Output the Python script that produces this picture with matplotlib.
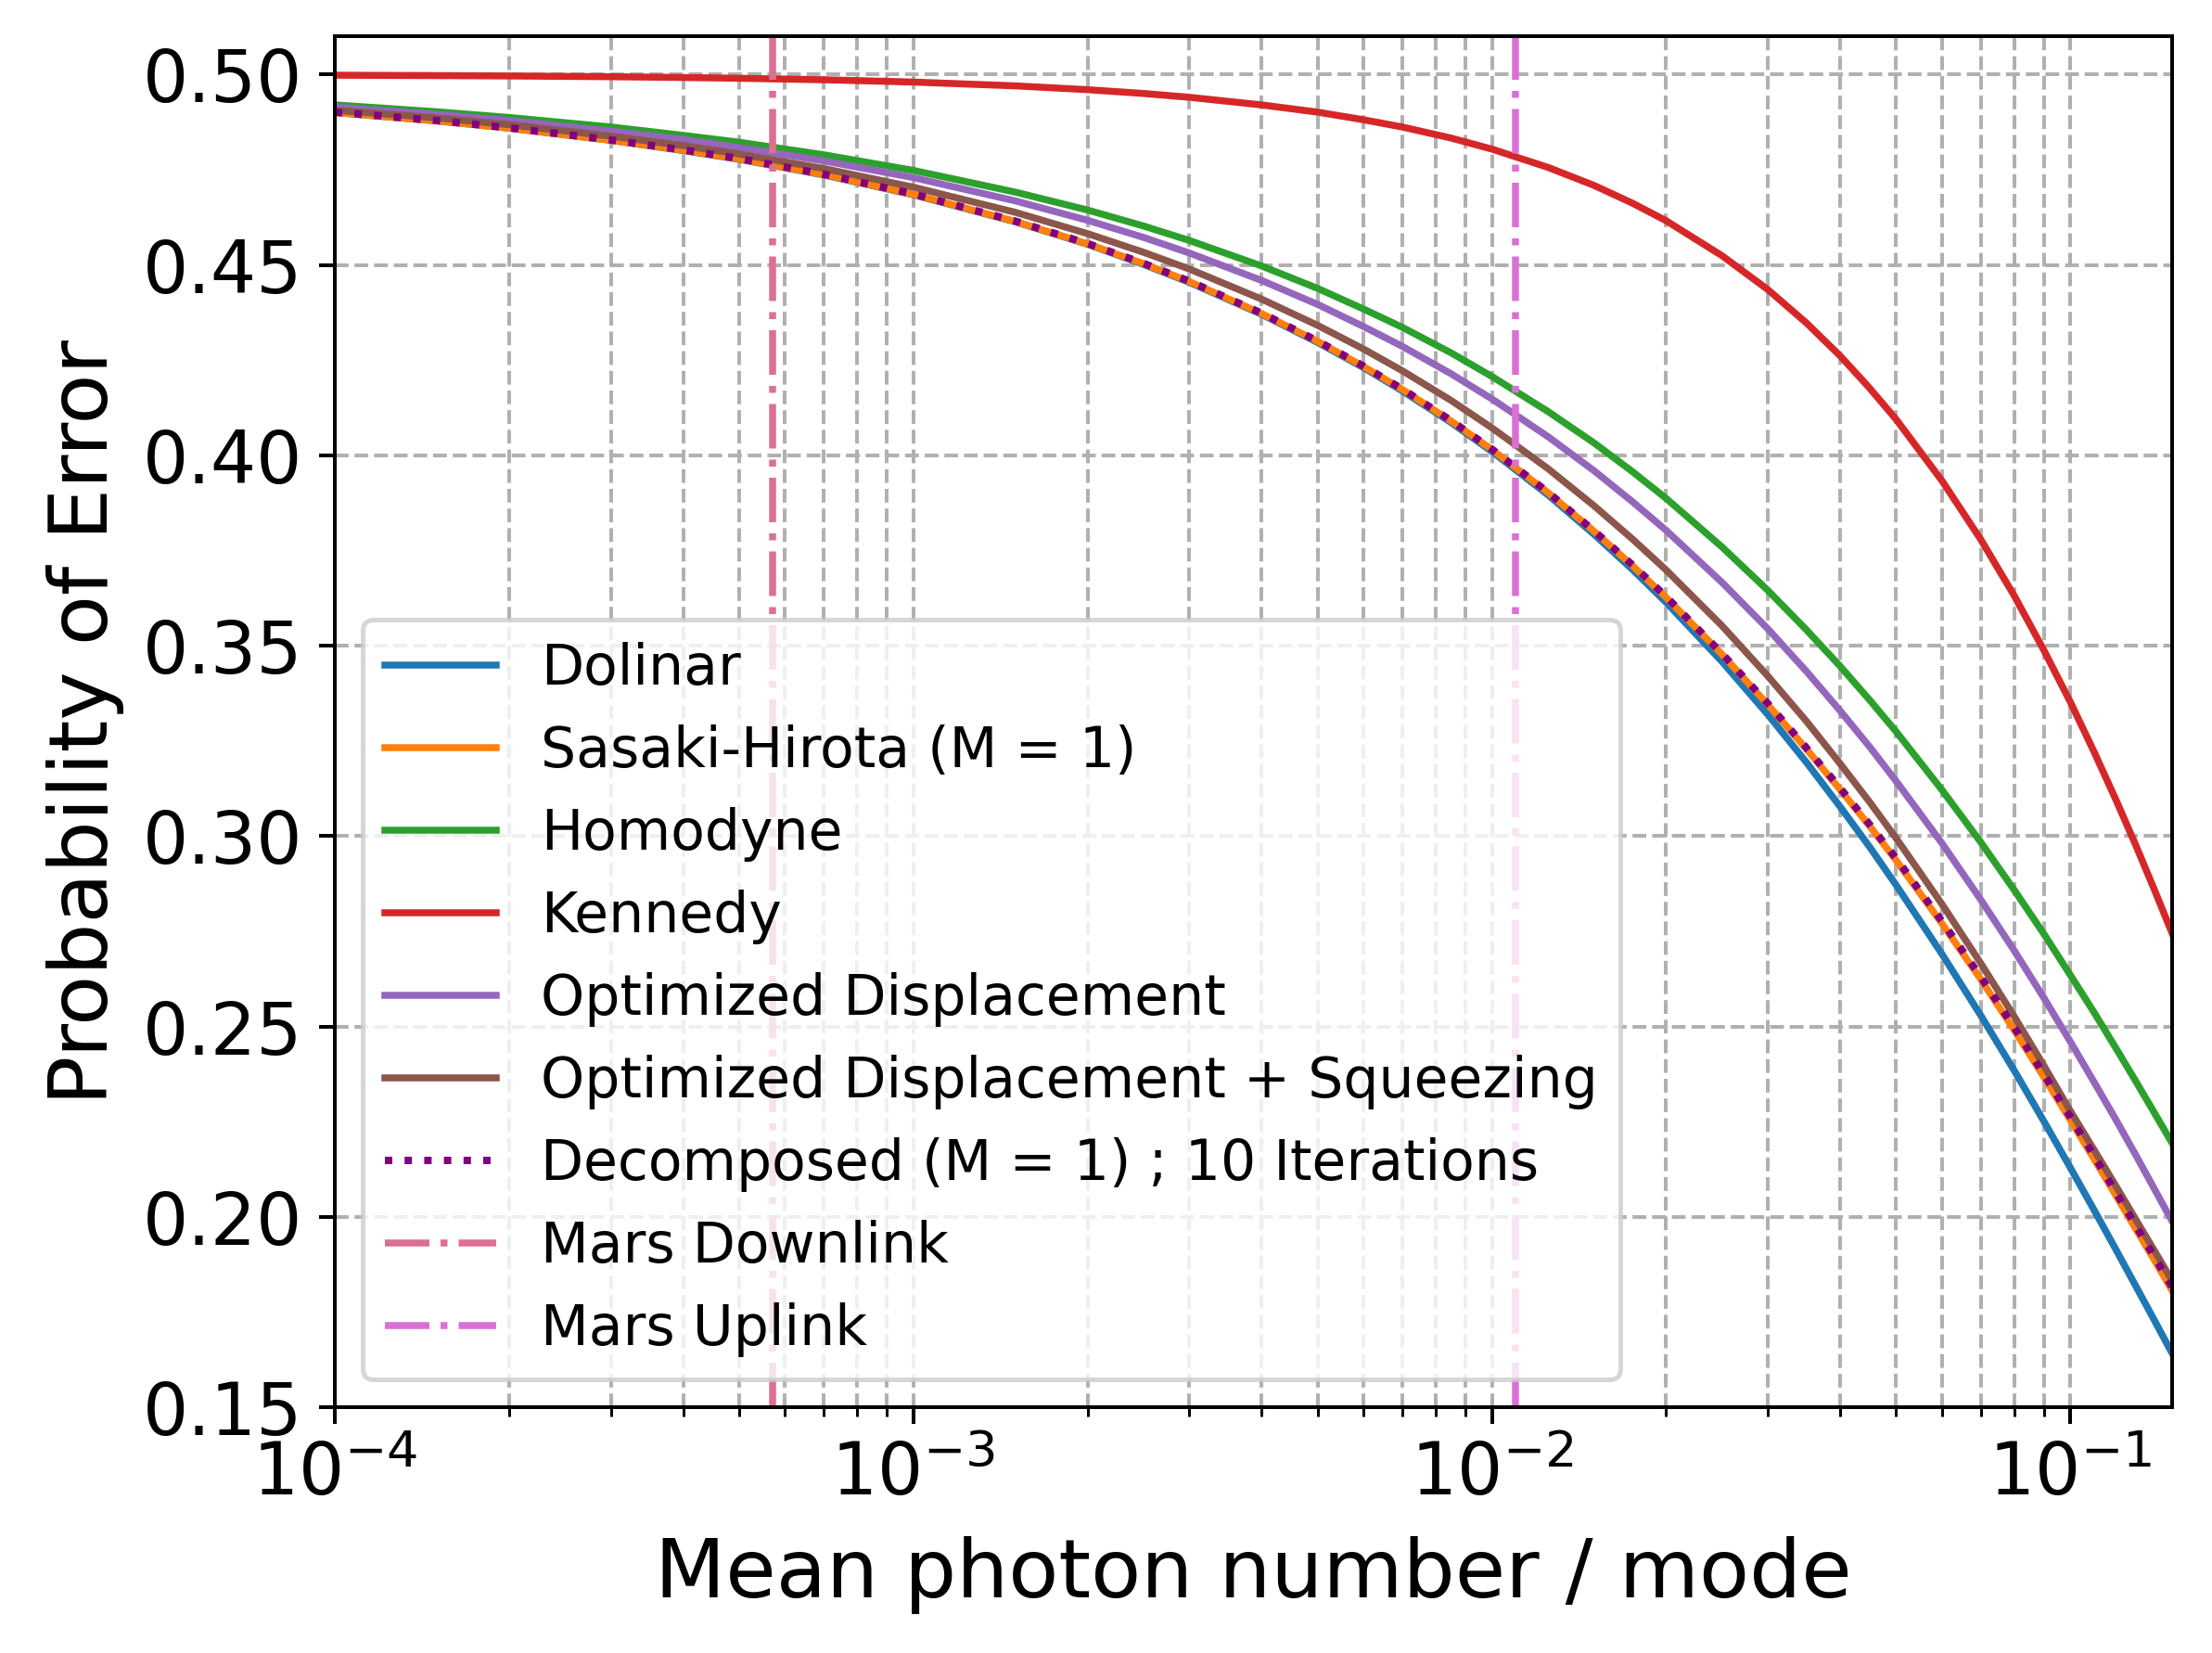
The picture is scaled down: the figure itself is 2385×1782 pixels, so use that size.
import matplotlib
matplotlib.use("Agg")
import matplotlib.pyplot as plt

# mean photon number per mode (x values)
photons = [1e-4, 1.5e-4, 2e-4, 3e-4, 4e-4, 5e-4, 7e-4,
           1e-3, 1.5e-3, 2e-3, 2.5e-3, 3e-3, 4e-3, 5e-3, 6e-3, 7e-3, 8.5e-3,
           1e-2, 1.25e-2, 1.5e-2, 1.75e-2, 2e-2, 2.5e-2, 3e-2, 3.5e-2, 4e-2, 4.5e-2,
           5e-2, 6e-2, 7e-2, 8e-2, 9e-2, 0.1, 0.11, 0.12, 0.13, 0.14, 0.15]

# probability of error for each receiver
dolinar = [0.4900, 0.4878, 0.4859, 0.4827, 0.4800, 0.4777, 0.4736,
           0.4684, 0.4613, 0.4554, 0.4501, 0.4454, 0.4370, 0.4296, 0.4230, 0.4169, 0.4086,
           0.4010, 0.3896, 0.3793, 0.3700, 0.3614, 0.3458, 0.3319, 0.3193, 0.3077, 0.2971,
           0.2871, 0.2690, 0.2529, 0.2384, 0.2251, 0.2129, 0.2017, 0.1913, 0.1816, 0.1726, 0.1641]
sasaki = [0.4900, 0.4878, 0.4859, 0.4827, 0.4801, 0.4778, 0.4737,
          0.4685, 0.4614, 0.4555, 0.4503, 0.4456, 0.4372, 0.4299, 0.4233, 0.4173, 0.4090,
          0.4015, 0.3902, 0.3801, 0.3710, 0.3627, 0.3477, 0.3345, 0.3228, 0.3122, 0.3026,
          0.2936, 0.2770, 0.2624, 0.2490, 0.2367, 0.2254, 0.2151, 0.2055, 0.1966, 0.1884, 0.1806]
homodyne = [0.4920, 0.4902, 0.4887, 0.4862, 0.4840, 0.4822, 0.4789,
            0.4748, 0.4691, 0.4644, 0.4602, 0.4564, 0.4497, 0.4438, 0.4384, 0.4336, 0.4269,
            0.4207, 0.4115, 0.4033, 0.3957, 0.3887, 0.3759, 0.3645, 0.3541, 0.3446, 0.3357,
            0.3274, 0.3121, 0.2984, 0.2858, 0.2743, 0.2635, 0.2536, 0.2442, 0.2354, 0.2271, 0.2193]
kennedy = [0.4998, 0.4997, 0.4996, 0.4994, 0.4992, 0.4990, 0.4986,
           0.4980, 0.4970, 0.4960, 0.4950, 0.4940, 0.4920, 0.4901, 0.4881, 0.4862, 0.4833,
           0.4804, 0.4756, 0.4709, 0.4662, 0.4616, 0.4524, 0.4435, 0.4347, 0.4261, 0.4176,
           0.4094, 0.3933, 0.3779, 0.3631, 0.3488, 0.3352, 0.3220, 0.3094, 0.2973, 0.2856, 0.2744]
opt_disp = [0.4914, 0.4895, 0.4879, 0.4851, 0.4829, 0.4808, 0.4773,
            0.4729, 0.4668, 0.4617, 0.4572, 0.4531, 0.4459, 0.4396, 0.4338, 0.4286, 0.4214,
            0.4148, 0.4049, 0.3960, 0.3878, 0.3803, 0.3666, 0.3544, 0.3432, 0.3329, 0.3234,
            0.3144, 0.2981, 0.2833, 0.2699, 0.2575, 0.2460, 0.2353, 0.2254, 0.2160, 0.2071, 0.1988]
opt_disp_sq = [0.4906, 0.4886, 0.4868, 0.4838, 0.4813, 0.4791, 0.4753,
               0.4704, 0.4638, 0.4582, 0.4533, 0.4489, 0.4410, 0.4341, 0.4279, 0.4222, 0.4144,
               0.4072, 0.3965, 0.3868, 0.3780, 0.3699, 0.3552, 0.3420, 0.3301, 0.3190, 0.3089,
               0.2994, 0.2821, 0.2666, 0.2526, 0.2397, 0.2278, 0.2175, 0.2080, 0.1991, 0.1909, 0.1832]
decomposed = [0.4901, 0.4879, 0.4860, 0.4828, 0.4802, 0.4779, 0.4738,
              0.4686, 0.4615, 0.4556, 0.4504, 0.4457, 0.4373, 0.4300, 0.4234, 0.4174, 0.4091,
              0.4016, 0.3903, 0.3802, 0.3712, 0.3629, 0.3479, 0.3348, 0.3231, 0.3126, 0.3030,
              0.2941, 0.2776, 0.2630, 0.2497, 0.2374, 0.2262, 0.2159, 0.2063, 0.1974, 0.1893, 0.1815]

# mission operating points
mars_downlink = 5.7e-4
mars_uplink = 1.1e-2

fig = plt.figure(figsize=(2385 / 360, 1782 / 360), dpi=360)
plt.subplots_adjust(left=0.1514, right=0.982, top=0.978, bottom=0.1487)

plt.plot(photons, dolinar, color="C0", lw=1.5, label="Dolinar")
plt.plot(photons, sasaki, color="C1", lw=1.5, label="Sasaki-Hirota (M = 1)")
plt.plot(photons, homodyne, color="C2", lw=1.5, label="Homodyne")
plt.plot(photons, kennedy, color="C3", lw=1.5, label="Kennedy")
plt.plot(photons, opt_disp, color="C4", lw=1.5, label="Optimized Displacement")
plt.plot(photons, opt_disp_sq, color="C5", lw=1.5, label="Optimized Displacement + Squeezing")
plt.plot(photons, decomposed, color="purple", ls=":", lw=1.6, label="Decomposed (M = 1) ; 10 Iterations")
plt.axvline(mars_downlink, color="palevioletred", ls="-.", lw=1.5, label="Mars Downlink")
plt.axvline(mars_uplink, color="orchid", ls="-.", lw=1.5, label="Mars Uplink")

plt.xscale("log")
plt.xlim(1e-4, 0.15)
plt.ylim(0.15, 0.51)
plt.grid(True, which="both", ls="--")
plt.xticks(fontsize=15.5)
plt.yticks(fontsize=15.5)
plt.xlabel("Mean photon number / mode", fontsize=17.7, labelpad=5.5)
plt.ylabel("Probability of Error", fontsize=17.7)
plt.legend(loc="lower left", fontsize=12)

plt.savefig("out.png", dpi=360)
